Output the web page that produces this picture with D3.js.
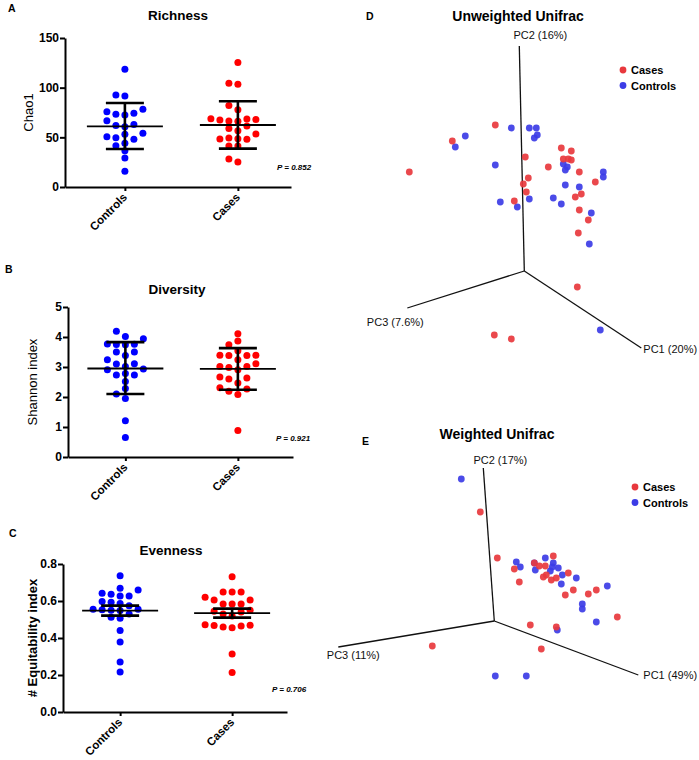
<!DOCTYPE html>
<html><head><meta charset="utf-8">
<script src="https://cdn.jsdelivr.net/npm/d3@7"></script>
<style>
body{margin:0;background:#fff}
text{font-family:"Liberation Sans",Arial,sans-serif}
</style>
</head><body>
<svg id="c" width="699" height="760"></svg>
<script>
// ---------------- DATA ----------------
const groups = ["Controls", "Cases"];

const richnessControls = [118.5, 92.6, 91.7, 78.2, 75.8, 74.2, 73.2, 72.5, 66.8, 63, 62, 60.7, 54, 53, 50.5, 49.6, 48, 44, 41.6, 36.6, 29.2, 15.8];
const richnessCases = [125.3, 104.4, 103.4, 82, 77.8, 68.8, 68.5, 68, 67.5, 66.5, 66.2, 61.4, 59, 56.7, 53.4, 49.3, 48.6, 48.3, 48, 41.3, 41.3, 28.2, 25.2];
const richnessMean = [61.0, 62.4];
const richnessLow = [38.3, 38.6];
const richnessHigh = [84.6, 86.3];
const richnessTicks = [0, 50, 100, 150];

const diversityControls = [4.19, 4.02, 3.94, 3.77, 3.76, 3.75, 3.74, 3.5, 3.5, 3.38, 3.24, 3.11, 3.1, 3.02, 2.93, 2.91, 2.78, 2.73, 2.73, 2.52, 2.28, 2.1, 1.95, 1.21, 0.65];
const diversityCases = [4.11, 3.87, 3.74, 3.54, 3.39, 3.39, 3.38, 3.38, 3.24, 3.11, 3.02, 3.02, 2.98, 2.91, 2.67, 2.63, 2.6, 2.47, 2.31, 2.27, 2.19, 2.08, 0.88];
const diversityMean = [2.95, 2.94];
const diversityLow = [2.10, 2.24];
const diversityHigh = [3.83, 3.63];
const diversityTicks = [0, 1, 2, 3, 4, 5];

const evennessControls = [0.737, 0.669, 0.66, 0.642, 0.636, 0.627, 0.627, 0.597, 0.593, 0.586, 0.575, 0.556, 0.555, 0.553, 0.55, 0.548, 0.53, 0.512, 0.507, 0.44, 0.378, 0.27, 0.216];
const evennessCases = [0.731, 0.649, 0.649, 0.649, 0.62, 0.606, 0.606, 0.584, 0.584, 0.584, 0.55, 0.545, 0.54, 0.53, 0.519, 0.472, 0.469, 0.467, 0.465, 0.46, 0.456, 0.313, 0.214];
const evennessMean = [0.548, 0.535];
const evennessLow = [0.521, 0.510];
const evennessHigh = [0.575, 0.559];
const evennessTicks = [0, 0.2, 0.4, 0.6, 0.8];

const pLabels = ["P = 0.852", "P = 0.921", "P = 0.706"];

// PCoA (projected 2D coordinates of the 3D view)
const legendNames = ["Cases", "Controls"];
const unweightedAxisNames = ["PC1 (20%)", "PC2 (16%)", "PC3 (7.6%)"];
const unweightedAxisEndX = [1.17, -0.05, -1.17];
const unweightedAxisEndY = [-0.77, 2.25, -0.37];
const unweightedCasesX = [-0.29, -0.72, -1.15, 0.01, 0.37, 0.47, 0.39, 0.44, 0.47, 0.24, 0.55, 0.71, 0.04, -0.01, 0.02, -0.10, 0.51, 0.57, 0.55, 0.64, 0.54, 0.53, -0.30, -0.13];
const unweightedCasesY = [1.46, 1.30, 0.99, 1.14, 1.23, 1.20, 1.12, 1.12, 1.11, 1.04, 0.99, 0.89, 0.93, 0.87, 0.79, 0.70, 0.74, 0.77, 0.61, 0.51, 0.38, -0.16, -0.64, -0.68];
const unweightedControlsX = [-0.59, -0.69, -0.13, 0.05, 0.12, 0.13, 0.10, -0.29, 0.39, 0.43, 0.41, 0.79, 0.79, 0.41, 0.55, -0.24, -0.07, 0.05, 0.29, 0.37, 0.67, 0.65, 0.76];
const unweightedControlsY = [1.35, 1.24, 1.43, 1.43, 1.43, 1.36, 1.33, 1.06, 1.07, 1.04, 1.01, 0.99, 0.94, 0.86, 0.84, 0.69, 0.64, 0.72, 0.73, 0.67, 0.58, 0.27, -0.59];

const weightedAxisNames = ["PC1 (49%)", "PC2 (17%)", "PC3 (11%)"];
const weightedAxisEndX = [1.44, -0.11, -1.56];
const weightedAxisEndY = [-0.54, 1.53, -0.26];
const weightedCasesX = [-0.14, 0.03, 0.20, 0.25, 0.59, 0.40, 0.45, 0.49, 0.52, 0.57, 0.62, 0.74, 0.79, 0.71, 0.94, 1.02, 1.23, 0.36, 0.62, -0.62, 0.47, 0.51];
const weightedCasesY = [1.09, 0.63, 0.52, 0.39, 0.65, 0.58, 0.55, 0.44, 0.46, 0.41, 0.43, 0.48, 0.31, 0.26, 0.27, 0.31, 0.04, -0.04, -0.06, -0.25, -0.28, 0.55];
const weightedControlsX = [-0.33, 0.22, 0.26, 0.51, 0.41, 0.56, 0.59, 0.58, 0.64, 0.68, 0.82, 0.67, 1.13, 0.88, 0.88, 1.02, 0.63, 0.01, 0.32, 0.40];
const weightedControlsY = [1.42, 0.59, 0.54, 0.63, 0.51, 0.50, 0.58, 0.54, 0.53, 0.46, 0.43, 0.37, 0.35, 0.17, 0.12, -0.01, -0.09, -0.55, -0.55, 0.58];

// ---------------- DRAW ----------------
const svg = d3.select("#c");
const FONT = '"Liberation Sans", Arial, sans-serif';
const dotColors = ["#0000ff", "#ff0000"];
const pcColors = { Cases: "#e8383d", Controls: "#3c3ce6" };

function swarm(values, cx, y, step, minDist) {
  const pts = values.map(v => ({ v, py: y(v) })).sort((a, b) => a.v - b.v);
  const order = [0, -1, 1, -2, 2, -3, 3, -4, 4, -5, 5];
  const placed = [];
  pts.forEach(p => {
    for (const k of order) {
      if (!placed.some(q => q.k === k && Math.abs(q.py - p.py) < minDist)) { p.k = k; break; }
    }
    placed.push(p);
  });
  return pts.map(p => ({ x: cx + p.k * step, y: p.py }));
}

function dotPanel(c) {
  const g = svg.append("g");
  const x = d3.scalePoint().domain(groups).range([c.left, c.right]).padding(0.5).align(c.align);
  const y = d3.scaleLinear().domain([c.ticks[0], c.ticks[c.ticks.length - 1]]).range([c.bottom, c.top]);

  const ya = g.append("g").attr("transform", `translate(${c.left},0)`)
    .call(d3.axisLeft(y).tickValues(c.ticks).tickFormat(c.fmt).tickSize(5).tickSizeOuter(0));
  const xa = g.append("g").attr("transform", `translate(0,${c.bottom})`)
    .call(d3.axisBottom(x).tickSize(4).tickSizeOuter(0));
  [ya, xa].forEach(a => {
    a.select(".domain").attr("stroke", "#000").attr("stroke-width", 2);
    a.selectAll(".tick line").attr("stroke", "#000").attr("stroke-width", 2);
  });
  ya.selectAll(".tick text").attr("font-family", FONT).attr("font-size", 12).attr("font-weight", "bold").attr("fill", "#000").attr("x", -6);
  xa.selectAll(".tick text").remove();
  groups.forEach(gn => {
    g.append("text").attr("transform", `translate(${x(gn) + 3},${c.bottom + 11}) rotate(-45)`)
      .attr("text-anchor", "end").attr("font-size", 11.5).attr("font-weight", "bold").text(gn);
  });

  // points
  [c.controls, c.cases].forEach((vals, i) => {
    const pts = swarm(vals, x(groups[i]), y, 9, 7);
    g.append("g").selectAll("circle").data(pts).join("circle")
      .attr("cx", d => d.x).attr("cy", d => d.y).attr("r", 3.5).attr("fill", dotColors[i]);
  });
  // error bars
  groups.forEach((gn, i) => {
    const cx = x(gn);
    g.append("line").attr("x1", cx - 38).attr("x2", cx + 38).attr("y1", y(c.mean[i])).attr("y2", y(c.mean[i]))
      .attr("stroke", "#000").attr("stroke-width", 1.8);
    g.append("line").attr("x1", cx).attr("x2", cx).attr("y1", y(c.low[i])).attr("y2", y(c.high[i]))
      .attr("stroke", "#000").attr("stroke-width", 2.6);
    [c.low[i], c.high[i]].forEach(v => {
      g.append("line").attr("x1", cx - 19).attr("x2", cx + 19).attr("y1", y(v)).attr("y2", y(v))
        .attr("stroke", "#000").attr("stroke-width", 2.6);
    });
  });

  g.append("text").attr("x", c.titleX).attr("y", c.titleY).attr("text-anchor", "middle")
    .attr("font-size", 13.5).attr("font-weight", "bold").text(c.title);
  g.append("text").attr("x", c.letterX).attr("y", c.letterY).attr("font-size", 10.5).attr("font-weight", "bold").text(c.letter);
  g.append("text").attr("transform", `translate(${c.labelX},${(c.top + c.bottom) / 2}) rotate(-90)`)
    .attr("text-anchor", "middle").attr("font-size", 13).attr("font-weight", c.labelWeight).text(c.label);
  g.append("text").attr("x", c.pX).attr("y", c.pY).attr("font-size", 8).attr("font-weight", "bold")
    .attr("font-style", "italic").text(c.p);
}

dotPanel({
  left: 65, right: 291, align: 0.53, top: 38, bottom: 187, ticks: richnessTicks, fmt: d3.format("d"),
  controls: richnessControls, cases: richnessCases, mean: richnessMean, low: richnessLow, high: richnessHigh,
  title: "Richness", titleX: 178, titleY: 20, letter: "A", letterX: 8, letterY: 12,
  label: "Chao1", labelX: 33, labelWeight: "normal", p: pLabels[0], pX: 277, pY: 170
});
dotPanel({
  left: 68, right: 293, align: 0.51, top: 307, bottom: 457, ticks: diversityTicks, fmt: d3.format("d"),
  controls: diversityControls, cases: diversityCases, mean: diversityMean, low: diversityLow, high: diversityHigh,
  title: "Diversity", titleX: 177, titleY: 294, letter: "B", letterX: 5, letterY: 273,
  label: "Shannon index", labelX: 37, labelWeight: "normal", p: pLabels[1], pX: 276, pY: 441
});
dotPanel({
  left: 63, right: 287, align: 0.51, top: 564, bottom: 712, ticks: evennessTicks, fmt: d3.format(".1f"),
  controls: evennessControls, cases: evennessCases, mean: evennessMean, low: evennessLow, high: evennessHigh,
  title: "Evenness", titleX: 171, titleY: 555, letter: "C", letterX: 9, letterY: 537,
  label: "# Equitability index", labelX: 37, labelWeight: "bold", p: pLabels[2], pX: 272, pY: 692
});

function pcoaPanel(c) {
  const g = svg.append("g");
  const x = d3.scaleLinear().domain([-1, 1]).range([c.ox - 100, c.ox + 100]);
  const y = d3.scaleLinear().domain([-1, 1]).range([c.oy + 100, c.oy - 100]);
  c.axisNames.forEach((nm, i) => {
    g.append("line").attr("x1", x(0)).attr("y1", y(0)).attr("x2", x(c.endX[i])).attr("y2", y(c.endY[i]))
      .attr("stroke", "#111").attr("stroke-width", 1.3);
    const o = c.labelOff[i];
    g.append("text").attr("x", x(c.endX[i]) + o[0]).attr("y", y(c.endY[i]) + o[1]).attr("text-anchor", o[2])
      .attr("font-size", 11).attr("fill", "#111").text(nm);
  });
  const series = [
    { name: "Controls", xs: c.ctrlX, ys: c.ctrlY },
    { name: "Cases", xs: c.caseX, ys: c.caseY }
  ];
  series.forEach(s => {
    g.append("g").selectAll("circle").data(s.xs.map((v, i) => [v, s.ys[i]])).join("circle")
      .attr("cx", d => x(d[0])).attr("cy", d => y(d[1])).attr("r", 3.4)
      .attr("fill", pcColors[s.name]).attr("fill-opacity", 0.92);
  });
  g.append("text").attr("x", c.titleX).attr("y", c.titleY).attr("text-anchor", "middle")
    .attr("font-size", 14).attr("font-weight", "bold").text(c.title);
  g.append("text").attr("x", c.letterX).attr("y", c.letterY).attr("font-size", 10.5).attr("font-weight", "bold").text(c.letter);
  legendNames.forEach((nm, i) => {
    const ly = c.legY + i * 15.5;
    g.append("circle").attr("cx", c.legX).attr("cy", ly).attr("r", 3.4).attr("fill", pcColors[nm]);
    g.append("text").attr("x", c.legX + 8).attr("y", ly + 4).attr("font-size", 11).attr("font-weight", "bold").text(nm);
  });
}

pcoaPanel({
  ox: 524.3, oy: 271, axisNames: unweightedAxisNames, endX: unweightedAxisEndX, endY: unweightedAxisEndY,
  labelOff: [[2, 5, "start"], [21, -7, "middle"], [-12, 18, "middle"]],
  caseX: unweightedCasesX, caseY: unweightedCasesY, ctrlX: unweightedControlsX, ctrlY: unweightedControlsY,
  title: "Unweighted Unifrac", titleX: 518, titleY: 21, letter: "D", letterX: 366, letterY: 20,
  legX: 623, legY: 70
});
pcoaPanel({
  ox: 494.3, oy: 621, axisNames: weightedAxisNames, endX: weightedAxisEndX, endY: weightedAxisEndY,
  labelOff: [[5, 4, "start"], [17, -4, "middle"], [15, 12, "middle"]],
  caseX: weightedCasesX, caseY: weightedCasesY, ctrlX: weightedControlsX, ctrlY: weightedControlsY,
  title: "Weighted Unifrac", titleX: 497, titleY: 439, letter: "E", letterX: 362, letterY: 445,
  legX: 635, legY: 487
});
</script>
</body></html>
